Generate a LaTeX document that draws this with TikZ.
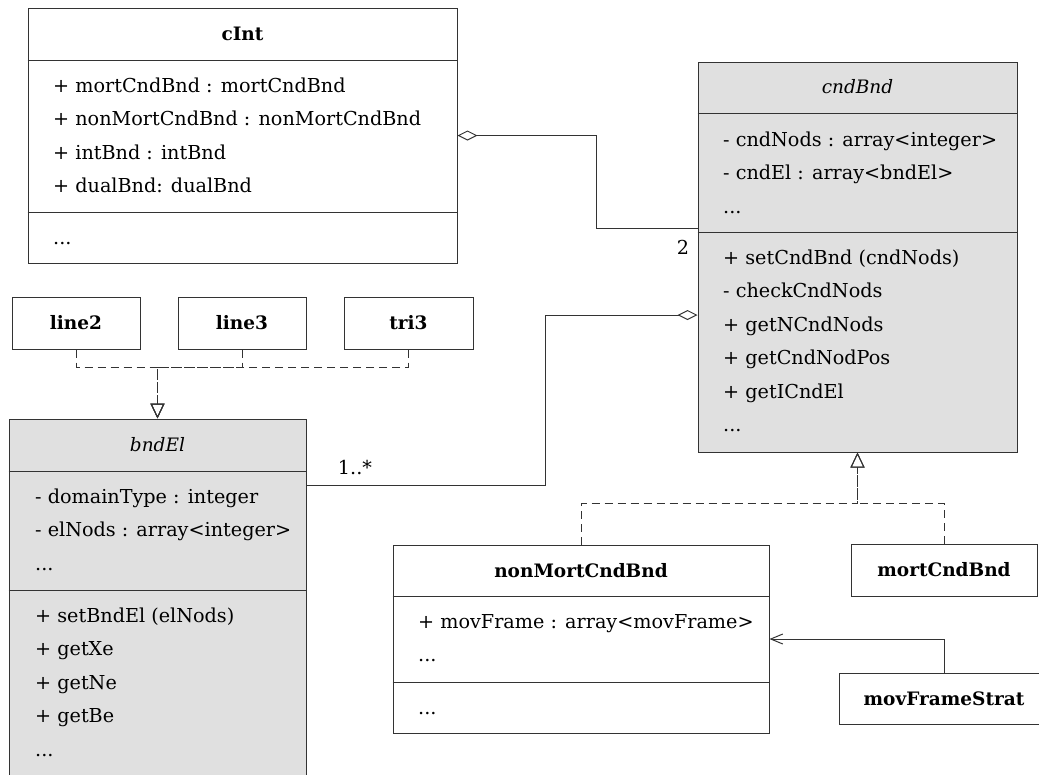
\documentclass[tikz,border=0pt]{standalone}
\usepackage{fontspec}
\setmainfont{DejaVu Serif}
\usepackage{tikz}
\usetikzlibrary{arrows.meta,fit}

\tikzset{
  umlbox/.style={draw=black!80, line width=1pt, inner sep=0pt},
  abstractbox/.style={umlbox, fill=black!12},
  umlline/.style={draw=black!80, line width=1pt},
  member/.style={anchor=base west, inner sep=0pt},
  classname/.style={font=\fontsize{18.5}{22}\selectfont\bfseries},
  abstractname/.style={font=\fontsize{18.5}{22}\selectfont\itshape},
  realize/.style={umlline, dash pattern=on 8pt off 5pt, -{Triangle[open,length=15pt,width=14pt]}},
  aggregate/.style={umlline, -{Diamond[open,length=20pt,width=10pt]}},
  navigate/.style={umlline, -{Straight Barb[length=12pt,width=10pt]}},
}

\begin{document}
\begin{tikzpicture}[x=1pt,y=-1pt,font=\fontsize{19.2}{22}\selectfont]
\useasboundingbox (0,0) rectangle (1039,774);
\clip (0,0) rectangle (1039,774);

% Class cInt
\node[umlbox, fit={(28,8) (457,263)}] (cint) {};
\node[classname] (cint-t) at (cint.north |- 0,34) {cInt};
\draw[umlline] (cint.west |- 0,60) -- (cint.east |- 0,60);
\draw[umlline] (cint.west |- 0,212) -- (cint.east |- 0,212);
\foreach \m [count=\i from 0] in {+ mortCndBnd : mortCndBnd, + nonMortCndBnd : nonMortCndBnd, + intBnd : intBnd, + dualBnd: dualBnd}
  \node[member] (cint-a\i) at (53,{92+33.5*\i}) {\m};
\node[member] (cint-m0) at (53,244) {...};

% Abstract class cndBnd
\node[abstractbox, fit={(698,62) (1017,452)}] (cndbnd) {};
\node[abstractname] (cndbnd-t) at (cndbnd.north |- 0,87) {cndBnd};
\draw[umlline] (cndbnd.west |- 0,113) -- (cndbnd.east |- 0,113);
\draw[umlline] (cndbnd.west |- 0,232) -- (cndbnd.east |- 0,232);
\foreach \m [count=\i from 0] in {- cndNods : array<integer>, - cndEl : array<bndEl>}
  \node[member] (cndbnd-a\i) at (723,{146+33.5*\i}) {\m};
\node[member] (cndbnd-a2) at (723,213) {...};
\foreach \m [count=\i from 0] in {+ setCndBnd (cndNods), - checkCndNods, + getNCndNods, + getCndNodPos, + getICndEl}
  \node[member] (cndbnd-m\i) at (723,{264+33.5*\i}) {\m};
\node[member] (cndbnd-m5) at (723,431.5) {...};

% Element classes
\node[umlbox, classname, minimum width=128pt, minimum height=52pt] (line2) at (76,323) {line2};
\node[umlbox, classname, minimum width=128pt, minimum height=52pt] (line3) at (242,323) {line3};
\node[umlbox, classname, minimum width=129pt, minimum height=52pt] (tri3) at (408.5,323) {tri3};

% Abstract class bndEl (runs off the bottom)
\node[abstractbox, fit={(9,419) (306,800)}] (bndel) {};
\node[abstractname] (bndel-t) at (bndel.north |- 0,445) {bndEl};
\draw[umlline] (bndel.west |- 0,471) -- (bndel.east |- 0,471);
\draw[umlline] (bndel.west |- 0,590) -- (bndel.east |- 0,590);
\foreach \m [count=\i from 0] in {- domainType : integer, - elNods : array<integer>}
  \node[member] (bndel-a\i) at (35,{503+33.5*\i}) {\m};
\node[member] (bndel-a2) at (35,570) {...};
\foreach \m [count=\i from 0] in {+ setBndEl (elNods), + getXe, + getNe, + getBe}
  \node[member] (bndel-m\i) at (35,{622+33.5*\i}) {\m};
\node[member] (bndel-m4) at (35,756) {...};

% Class nonMortCndBnd
\node[umlbox, fit={(393,545) (769,733)}] (nonmort) {};
\node[classname] (nonmort-t) at (nonmort.north |- 0,571) {nonMortCndBnd};
\draw[umlline] (nonmort.west |- 0,596) -- (nonmort.east |- 0,596);
\draw[umlline] (nonmort.west |- 0,682) -- (nonmort.east |- 0,682);
\node[member] (nonmort-a0) at (418,628) {+ movFrame : array<movFrame>};
\node[member] (nonmort-a1) at (418,661.5) {...};
\node[member] (nonmort-m0) at (418,714) {...};

% Other classes
\node[umlbox, classname, minimum width=186pt, minimum height=52pt] (mort) at (944,570) {mortCndBnd};
\node[umlbox, classname, minimum width=210pt, minimum height=51pt] (movstrat) at (944,698.5) {movFrameStrat};

% Realizations
\coordinate (bndjoin) at (bndel.north |- 0,367);
\foreach \c in {line2,line3,tri3}
  \draw[realize] (\c.south) |- (bndjoin) -- (bndel.north);
\coordinate (cndjoin) at (cndbnd.south |- 0,503);
\foreach \c in {nonmort,mort}
  \draw[realize] (\c.north) |- (cndjoin) -- (cndbnd.south);

% Aggregations
\draw[aggregate] (cndbnd.west |- 0,228) -- (596,228) |- (cint.east);
\node (mult2) at (683,247) {2};
\draw[aggregate] (bndel.east |- 0,485) -- (545,485) |- (cndbnd.west |- 0,315);
\node (multn) at (355,468) {1..*};

% Navigation
\draw[navigate] (movstrat.north) |- (nonmort.east);
\end{tikzpicture}
\end{document}
